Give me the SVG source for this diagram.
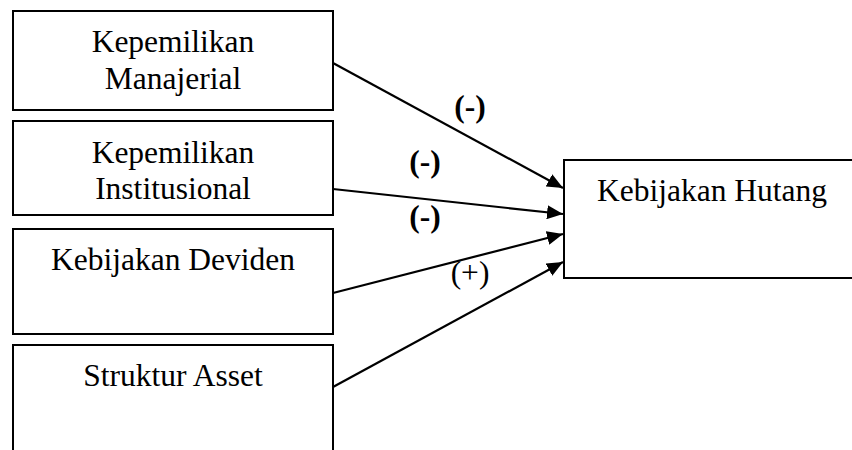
<svg xmlns="http://www.w3.org/2000/svg" width="852" height="450" viewBox="0 0 852 450">
<style>
.box{fill:#fff;stroke:#000;stroke-width:2}
.t{font-family:"Liberation Serif","Times New Roman",serif;font-size:31.5px;fill:#000;text-anchor:middle}
.b{font-weight:bold}
.c{stroke:#000;stroke-width:2.2;fill:none}
</style>
<defs>
<marker id="ah" markerUnits="userSpaceOnUse" markerWidth="16" markerHeight="14" viewBox="0 0 16 14" refX="16" refY="7" orient="auto">
<path d="M0,0 L16,7 L0,14 Z" fill="#000"/>
</marker>
</defs>
<rect width="852" height="450" fill="#fff"/>
<g id="n1"><rect class="box" x="13" y="11" width="320" height="99"/>
<text class="t" x="173" y="52">Kepemilikan</text><text class="t" x="173" y="89">Manajerial</text></g>
<g id="n2"><rect class="box" x="13" y="121" width="320" height="94"/>
<text class="t" x="173" y="163">Kepemilikan</text><text class="t" x="173" y="199">Institusional</text></g>
<g id="n3"><rect class="box" x="13" y="229" width="320" height="105"/>
<text class="t" x="173" y="270">Kebijakan Deviden</text></g>
<g id="n4"><rect class="box" x="13" y="345" width="320" height="120"/>
<text class="t" x="173" y="386">Struktur Asset</text></g>
<g id="n5"><rect class="box" x="564" y="160" width="300" height="118"/>
<text class="t" x="712" y="201">Kebijakan Hutang</text></g>
<g id="connectors">
<line class="c" x1="333" y1="63" x2="563" y2="188" marker-end="url(#ah)"/>
<line class="c" x1="333" y1="189" x2="563" y2="214" marker-end="url(#ah)"/>
<line class="c" x1="333" y1="293" x2="563" y2="234" marker-end="url(#ah)"/>
<line class="c" x1="333" y1="387" x2="563" y2="262" marker-end="url(#ah)"/>
<text class="t b" x="470" y="117">(-)</text>
<text class="t b" x="425" y="172">(-)</text>
<text class="t b" x="425" y="227">(-)</text>
<text class="t" x="470" y="283">(+)</text>
</g>
</svg>
